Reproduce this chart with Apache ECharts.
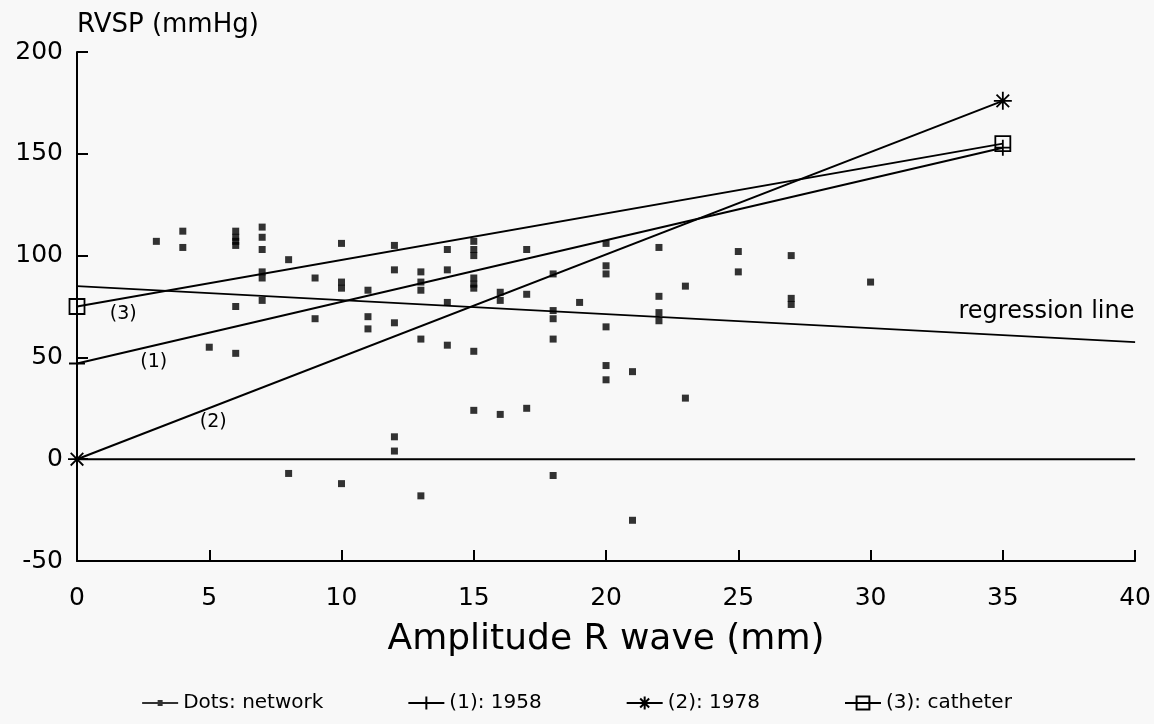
<!DOCTYPE html>
<html>
<head>
<meta charset="utf-8">
<script src="https://cdn.jsdelivr.net/npm/echarts@6/dist/echarts.min.js"></script>
<style>
html,body{margin:0;padding:0;background:#f8f8f8;}
#chart{width:1154px;height:724px;}
</style>
</head>
<body>
<div id="chart"></div>
<script>
// ---- data ----
const xTicks = [0, 5, 10, 15, 20, 25, 30, 35, 40];
const yTicks = [-50, 0, 50, 100, 150, 200];
const dotX = [3, 4, 4, 5, 6, 6, 6, 6, 6, 6, 7, 7, 7, 7, 7, 7, 8, 8, 9, 9, 10, 10, 10, 10, 11, 11, 11,
  12, 12, 12, 12, 12, 13, 13, 13, 13, 13, 14, 14, 14, 14, 15, 15, 15, 15, 15, 15, 15, 15,
  16, 16, 16, 17, 17, 17, 18, 18, 18, 18, 18, 19, 20, 20, 20, 20, 20, 20, 21, 21,
  22, 22, 22, 22, 23, 23, 25, 25, 27, 27, 27, 30];
const dotY = [107, 112, 104, 55, 112, 109, 107, 105, 75, 52, 114, 109, 103, 92, 89, 78, 98, -7, 89, 69, 106, 87, 84, -12, 83, 70, 64,
  105, 93, 67, 11, 4, 92, 87, 83, 59, -18, 103, 93, 77, 56, 107, 103, 100, 89, 86, 84, 53, 24,
  82, 78, 22, 103, 81, 25, 91, 73, 69, 59, -8, 77, 106, 95, 91, 65, 46, 39, 43, -30,
  104, 80, 72, 68, 85, 30, 102, 92, 100, 79, 76, 87];
const lineX = [0, 35];
const line1958 = [47, 153];
const line1978 = [0, 176];
const lineCatheter = [75, 155];
const regressionX = [0, 40];
const regressionY = [85, 57.5];
const zeroX = [0, 40];
const zeroY = [0, 0];
const seriesNames = ['Dots: network', '(1): 1958', '(2): 1978', '(3): catheter'];

const pair = (xs, ys) => xs.map((x, i) => [x, ys[i]]);

const FONT = 'DejaVu Sans';
const plusPath = 'path://M5,0L5,10M0,5L10,5';
const starPath = 'path://M5,0L5,10M0,5L10,5M1.5,1.5L8.5,8.5M8.5,1.5L1.5,8.5';
const boxPath = 'path://M0,0L10,0L10,10L0,10Z';
const strokeStyle = {color: 'transparent', borderColor: '#000', borderWidth: 1.8};

const chart = echarts.init(document.getElementById('chart'), null, {renderer: 'canvas'});
const option = {
  backgroundColor: '#f8f8f8',
  animation: false,
  textStyle: {fontFamily: FONT, color: '#000'},
  grid: {left: 77, right: 18, top: 52, bottom: 163, containLabel: false},
  legend: {
    bottom: 6,
    left: 'center',
    itemGap: 84,
    itemWidth: 36,
    itemHeight: 16,
    textStyle: {fontFamily: FONT, fontSize: 20, color: '#000'},
    data: [
      {name: seriesNames[0], icon: 'path://M0,7.1L36,7.1L36,8.9L0,8.9ZM15.5,5L20.5,5L20.5,11L15.5,11Z', itemStyle: {color: '#000'}},
      seriesNames[1], seriesNames[2], seriesNames[3]
    ]
  },
  xAxis: {
    type: 'value', min: xTicks[0], max: xTicks[xTicks.length - 1], interval: 5,
    name: 'Amplitude R wave (mm)', nameLocation: 'middle', nameGap: 61,
    nameTextStyle: {fontFamily: FONT, fontSize: 36, color: '#000'},
    axisLine: {show: true, onZero: false, lineStyle: {color: '#000', width: 2}},
    axisTick: {show: true, inside: true, length: 11, lineStyle: {color: '#000', width: 2}},
    axisLabel: {fontFamily: FONT, fontSize: 25, color: '#000', margin: 25},
    splitLine: {show: false}
  },
  yAxis: {
    type: 'value', min: yTicks[0], max: yTicks[yTicks.length - 1], interval: 50,
    name: 'RVSP (mmHg)', nameLocation: 'end', nameGap: 27,
    nameTextStyle: {fontFamily: FONT, fontSize: 26, color: '#000', align: 'left', verticalAlign: 'middle'},
    axisLine: {show: true, onZero: false, lineStyle: {color: '#000', width: 2}},
    axisTick: {show: true, inside: true, length: 11, lineStyle: {color: '#000', width: 2}},
    axisLabel: {fontFamily: FONT, fontSize: 25, color: '#000', margin: 14},
    splitLine: {show: false}
  },
  series: [
    {
      name: 'zero', type: 'line', data: pair(zeroX, zeroY), symbol: 'none',
      lineStyle: {color: '#000', width: 2}, silent: true, legendHoverLink: false
    },
    {
      name: 'regression', type: 'line', data: pair(regressionX, regressionY), symbol: 'none',
      lineStyle: {color: '#000', width: 1.8}, silent: true,
      markPoint: {
        symbol: 'rect', symbolSize: 0,
        label: {show: true, position: 'inside', color: '#000', fontFamily: FONT},
        data: [
          {coord: [1.75, 71.5], value: '(3)', label: {fontSize: 19}},
          {coord: [2.9, 47.5], value: '(1)', label: {fontSize: 19}},
          {coord: [5.15, 18], value: '(2)', label: {fontSize: 19}},
          {coord: [36.65, 72.5], value: 'regression line', label: {fontSize: 24}}
        ]
      }
    },
    {
      name: seriesNames[0], type: 'scatter', data: pair(dotX, dotY),
      symbol: 'rect', symbolSize: 7, itemStyle: {color: '#000'}
    },
    {
      name: seriesNames[1], type: 'line', data: pair(lineX, line1958),
      symbol: plusPath, symbolSize: 16, showAllSymbol: true,
      lineStyle: {color: '#000', width: 2}, itemStyle: strokeStyle
    },
    {
      name: seriesNames[2], type: 'line', data: pair(lineX, line1978),
      symbol: starPath, symbolSize: 18, showAllSymbol: true,
      lineStyle: {color: '#000', width: 2}, itemStyle: strokeStyle
    },
    {
      name: seriesNames[3], type: 'line', data: pair(lineX, lineCatheter),
      symbol: boxPath, symbolSize: 15, showAllSymbol: true,
      lineStyle: {color: '#000', width: 2}, itemStyle: strokeStyle
    }
  ]
};
chart.setOption(option);
</script>
</body>
</html>
